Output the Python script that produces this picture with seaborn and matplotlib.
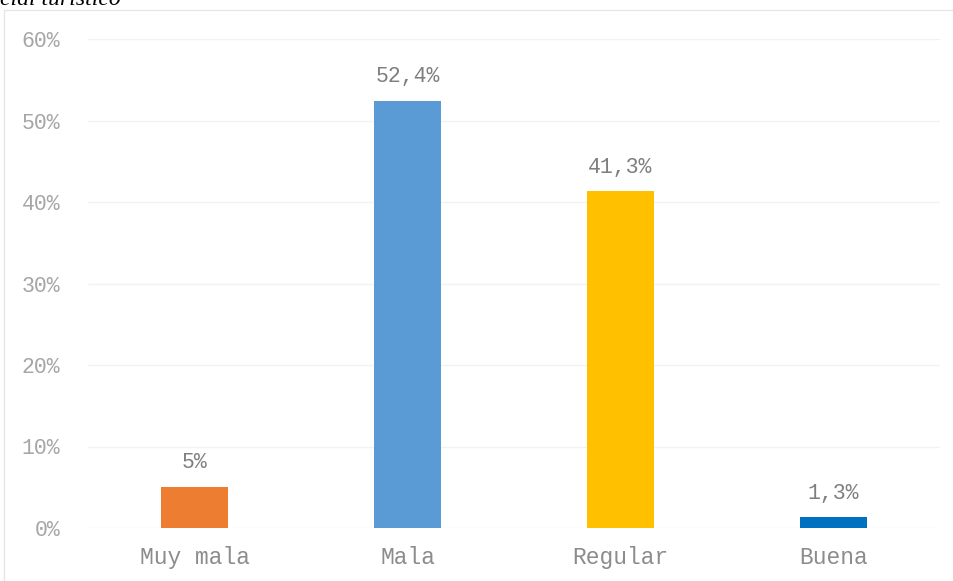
import matplotlib
matplotlib.use("Agg")
import matplotlib.pyplot as plt
from matplotlib.patches import Rectangle
import seaborn as sns
import pandas as pd

# datos del gráfico
categorias = ["Muy mala", "Mala", "Regular", "Buena"]
porcentajes = [5.0, 52.4, 41.3, 1.3]
etiquetas = ["5%", "52,4%", "41,3%", "1,3%"]
colores = ["#ED7D31", "#5B9BD5", "#FFC000", "#0070C0"]
ticks_y = [0, 10, 20, 30, 40, 50, 60]

df = pd.DataFrame({"Categoria": categorias, "Porcentaje": porcentajes})

sns.set_style("white")
plt.rcParams["font.family"] = ["Liberation Mono", "DejaVu Sans"]

fig = plt.figure(figsize=(9.54, 5.81), dpi=100)
ax = fig.add_axes([88 / 954, 1 - 528 / 581, 852 / 954, 489 / 581])

sns.barplot(data=df, x="Categoria", y="Porcentaje", hue="Categoria",
            palette=colores, legend=False, width=0.315, ax=ax, saturation=1,
            linewidth=0)

for cont, lab in zip(ax.containers, etiquetas):
    ax.bar_label(cont, labels=[lab], padding=10, fontsize=15.5, color="#7f7f7f")

ax.set_ylim(0, 60)
ax.set_xlim(-0.5, 3.5)
ax.set_yticks(ticks_y)
ax.set_yticklabels([f"{t}%" for t in ticks_y])
ax.grid(axis="y", color="#f2f2f2", linewidth=1)
ax.set_axisbelow(True)
for s in ax.spines.values():
    s.set_visible(False)
ax.tick_params(axis="y", length=0, labelsize=15.5, labelcolor="#a6a6a6", pad=20)
ax.tick_params(axis="x", length=0, labelsize=16.5, labelcolor="#8c8c8c", pad=13)
ax.set_xlabel("")
ax.set_ylabel("")

# borde del área del gráfico
fig.patches.append(Rectangle((4 / 954, -0.05), 1.1, 1.05 - 10 / 581,
                             transform=fig.transFigure, fill=False,
                             edgecolor="#e6e6e6", linewidth=1))

# título recortado del documento
fig.text(0.0, 1 - 5 / 581, "cial turístico", family="Liberation Serif",
         style="italic", fontsize=17, color="black", va="baseline", ha="left")

fig.savefig("out.png", dpi=100)
